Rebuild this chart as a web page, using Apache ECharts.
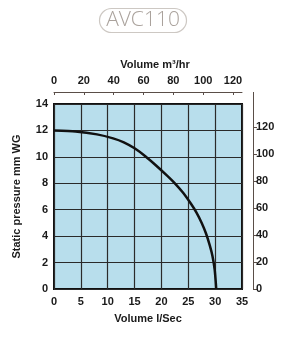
<!DOCTYPE html>
<html>
<head>
<meta charset="utf-8">
<script src="https://cdn.jsdelivr.net/npm/echarts@6/dist/echarts.min.js"></script>
<style>
  html, body { margin: 0; padding: 0; background: #fff; }
  #chart { width: 286px; height: 345px; }
</style>
</head>
<body>
<div id="chart"></div>
<script>
// fan curve: volume (l/s) vs static pressure (mm WG)
const flowLs = [0, 4, 8, 11, 13, 15, 17, 19, 21, 22.5, 24, 25.5, 26.5, 27.5, 28.3, 29, 29.5, 29.9, 30.1, 30.2]
const pressureMm = [12, 11.92, 11.7, 11.4, 11.1, 10.65, 10.05, 9.35, 8.6, 8.0, 7.3, 6.45, 5.8, 5.0, 4.2, 3.3, 2.5, 1.5, 0.6, 0]

const MM_TO_PA = 9.81
const LS_TO_M3H = 3.6
const xMax = 35
const yMax = 14

const font = 'Liberation Sans'
const bold = { color: '#1a1a1a', fontFamily: font, fontWeight: 'bold', fontSize: 11 }

const chart = echarts.init(document.getElementById('chart'))

chart.setOption({
    backgroundColor: '#fff',
    animation: false,
    title: {
        text: 'AVC110',
        left: 'center',
        top: 8,
        padding: [2, 7, 2, 7],
        borderColor: '#cdc8c3',
        borderWidth: 1.2,
        borderRadius: 13,
        textStyle: { color: '#aaa29c', fontFamily: 'Open Sans', fontWeight: 'lighter', fontSize: 21 }
    },
    grid: {
        left: 54, right: 44, top: 104, bottom: 56,
        outerBoundsMode: 'none',
        containLabel: false,
        show: true,
        backgroundColor: '#b8deec',
        borderColor: '#111',
        borderWidth: 2
    },
    xAxis: [
        {
            type: 'value', position: 'bottom',
            min: 0, max: xMax, interval: 5,
            name: 'Volume l/Sec', nameLocation: 'middle', nameGap: 24,
            nameTextStyle: bold,
            axisLine: { show: false },
            axisTick: { show: false },
            axisLabel: { ...bold, margin: 7 },
            splitLine: { lineStyle: { color: '#2a2a2a', width: 1.2 } }
        },
        {
            type: 'value', position: 'top', offset: 12,
            min: 0, max: xMax * LS_TO_M3H, interval: 20,
            name: 'Volume m³/hr', nameLocation: 'middle', nameGap: 20,
            nameTextStyle: { ...bold, padding: [0, 0, 0, 14] },
            axisLine: { show: true, onZero: false, lineStyle: { color: '#5a4e48', width: 1 } },
            axisTick: { show: true, inside: true, length: 3, lineStyle: { color: '#5a4e48' } },
            axisLabel: { ...bold, margin: 6, showMaxLabel: false },
            splitLine: { show: false }
        }
    ],
    yAxis: [
        {
            type: 'value', position: 'left',
            min: 0, max: yMax, interval: 2,
            name: 'Static pressure mm WG', nameLocation: 'middle', nameGap: 32,
            nameTextStyle: bold,
            axisLine: { show: false },
            axisTick: { show: false },
            axisLabel: { ...bold, margin: 6 },
            splitLine: { lineStyle: { color: '#2a2a2a', width: 1.2 } }
        },
        {
            type: 'value', position: 'right', offset: 11,
            min: 0, max: yMax * MM_TO_PA, interval: 20,
            name: 'Static pressure Pa', nameLocation: 'middle', nameGap: 34, nameRotate: -90,
            nameTextStyle: bold,
            axisLine: { show: true, onZero: false, lineStyle: { color: '#5a4e48', width: 1 } },
            axisTick: { show: true, length: 4, lineStyle: { color: '#5a4e48' } },
            axisLabel: { ...bold, margin: 3, showMaxLabel: false },
            splitLine: { show: false }
        }
    ],
    series: [{
        type: 'line',
        xAxisIndex: 0, yAxisIndex: 0,
        data: flowLs.map((x, i) => [x, pressureMm[i]]),
        smooth: 0.2,
        symbol: 'none',
        lineStyle: { color: '#111', width: 2.5 }
    }]
})

// the Pa axis line runs up to the m³/hr axis line in the original
const gr = chart.getModel().getComponent('grid').coordinateSystem.getRect()
chart.setOption({
    graphic: [{
        type: 'line',
        shape: { x1: gr.x + gr.width + 11.5, y1: gr.y - 12, x2: gr.x + gr.width + 11.5, y2: gr.y },
        style: { stroke: '#5a4e48', lineWidth: 1 }
    }]
})
</script>
</body>
</html>
